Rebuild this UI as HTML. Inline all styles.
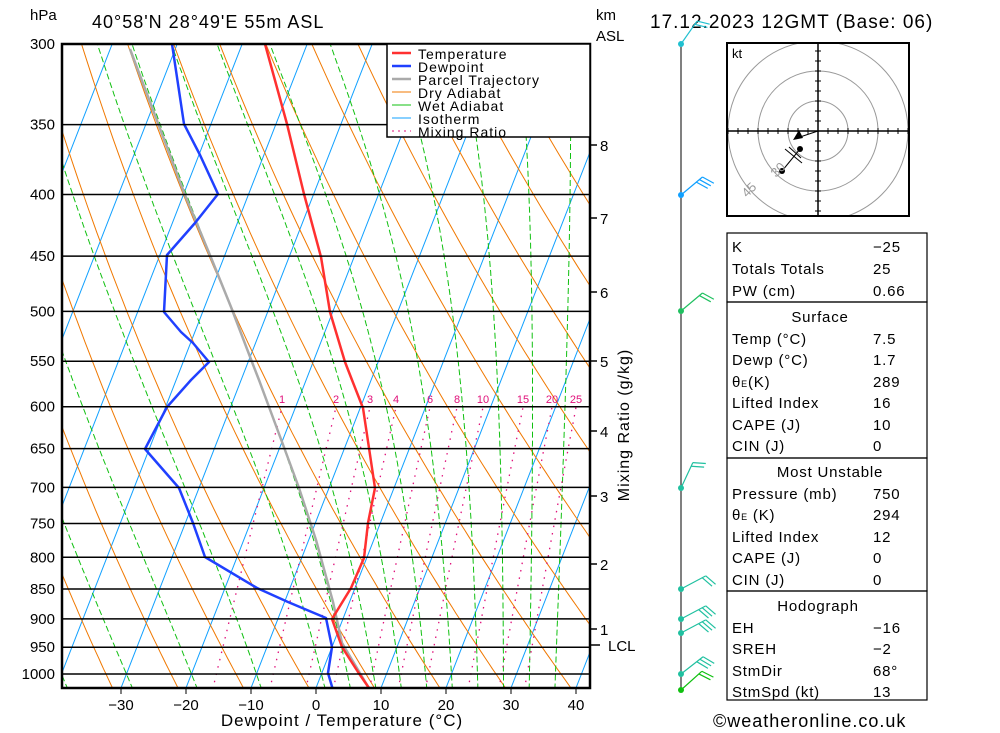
<!DOCTYPE html>
<html><head><meta charset="utf-8"><style>
body{margin:0;background:#fff;}
svg{display:block;font-family:"Liberation Sans",sans-serif;}
</style></head><body>
<svg id="s" width="1000" height="733" viewBox="0 0 1000 733" xmlns="http://www.w3.org/2000/svg">
<defs><clipPath id="pc"><rect x="62" y="44" width="528" height="644"/></clipPath>
<clipPath id="hc"><rect x="727" y="43" width="182" height="173"/></clipPath></defs>
<rect width="1000" height="733" fill="#fff"/>
<g id="bg" clip-path="url(#pc)" fill="none"></g>
<g id="prof" clip-path="url(#pc)" fill="none" stroke-linejoin="round"></g>
<g id="ov"></g>
<text x="30" y="20" font-size="15">hPa</text>
<text x="92" y="28" font-size="18" letter-spacing="1">40°58'N  28°49'E  55m  ASL</text>
<text x="596" y="20" font-size="15">km</text>
<text x="596" y="41" font-size="15">ASL</text>
<text x="650" y="28" font-size="19" letter-spacing="1">17.12.2023  12GMT  (Base: 06)</text>
<text x="342" y="726" font-size="17" text-anchor="middle" letter-spacing="1">Dewpoint / Temperature (°C)</text>
<text transform="translate(629,425) rotate(-90)" font-size="16" text-anchor="middle" letter-spacing="1">Mixing Ratio (g/kg)</text>
<text x="713" y="727" font-size="18" letter-spacing="1">©weatheronline.co.uk</text>
<g font-size="14" letter-spacing="1">
<rect x="387" y="44" width="203" height="93" fill="#fff" stroke="#000" stroke-width="1.5"/>
<line x1="392" y1="53" x2="411" y2="53" stroke="#ff3030" stroke-width="2.5"/><text x="418" y="59">Temperature</text>
<line x1="392" y1="66" x2="411" y2="66" stroke="#2040ff" stroke-width="2.5"/><text x="418" y="72">Dewpoint</text>
<line x1="392" y1="79" x2="411" y2="79" stroke="#aaa" stroke-width="2.5"/><text x="418" y="85">Parcel Trajectory</text>
<line x1="392" y1="92" x2="411" y2="92" stroke="#f07800" stroke-width="1"/><text x="418" y="98">Dry Adiabat</text>
<line x1="392" y1="105" x2="411" y2="105" stroke="#10c010" stroke-width="1"/><text x="418" y="111">Wet Adiabat</text>
<line x1="392" y1="118" x2="411" y2="118" stroke="#10a0ff" stroke-width="1"/><text x="418" y="124">Isotherm</text>
<line x1="392" y1="131" x2="411" y2="131" stroke="#e0107a" stroke-width="1" stroke-dasharray="2,4"/><text x="418" y="137">Mixing Ratio</text>
</g>
<g id="hodo"></g>
<g font-size="15" letter-spacing="0.8" fill="#000">
<rect x="727" y="233" width="200" height="69" fill="none" stroke="#000" stroke-width="1.2"/>
<text x="732" y="252">K</text><text x="873" y="252">−25</text>
<text x="732" y="274">Totals Totals</text><text x="873" y="274">25</text>
<text x="732" y="296">PW (cm)</text><text x="873" y="296">0.66</text>
<rect x="727" y="302" width="200" height="156" fill="none" stroke="#000" stroke-width="1.2"/>
<text x="820" y="322" text-anchor="middle">Surface</text>
<text x="732" y="344">Temp (°C)</text><text x="873" y="344">7.5</text>
<text x="732" y="365">Dewp (°C)</text><text x="873" y="365">1.7</text>
<text x="732" y="387">θ<tspan font-size="9">E</tspan>(K)</text><text x="873" y="387">289</text>
<text x="732" y="408">Lifted Index</text><text x="873" y="408">16</text>
<text x="732" y="430">CAPE (J)</text><text x="873" y="430">10</text>
<text x="732" y="451">CIN (J)</text><text x="873" y="451">0</text>
<rect x="727" y="458" width="200" height="133" fill="none" stroke="#000" stroke-width="1.2"/>
<text x="830" y="477" text-anchor="middle">Most Unstable</text>
<text x="732" y="499">Pressure (mb)</text><text x="873" y="499">750</text>
<text x="732" y="520">θ<tspan font-size="9">E</tspan> (K)</text><text x="873" y="520">294</text>
<text x="732" y="542">Lifted Index</text><text x="873" y="542">12</text>
<text x="732" y="563">CAPE (J)</text><text x="873" y="563">0</text>
<text x="732" y="585">CIN (J)</text><text x="873" y="585">0</text>
<rect x="727" y="591" width="200" height="109" fill="none" stroke="#000" stroke-width="1.2"/>
<text x="818" y="611" text-anchor="middle">Hodograph</text>
<text x="732" y="633">EH</text><text x="873" y="633">−16</text>
<text x="732" y="654">SREH</text><text x="873" y="654">−2</text>
<text x="732" y="676">StmDir</text><text x="873" y="676">68°</text>
<text x="732" y="697">StmSpd (kt)</text><text x="873" y="697">13</text>
</g>
<g id="wind"></g>
</svg>
<script>
var NS="http://www.w3.org/2000/svg";
function el(p,t,a){var e=document.createElementNS(NS,t);for(var k in a)e.setAttribute(k,a[k]);p.appendChild(e);return e;}
function Y(p){return 44+523.3*Math.log(p/300);}
function X(T,y){return 316+6.5*T+0.39*(688-y);}
var bg=document.getElementById('bg'),prof=document.getElementById('prof'),ov=document.getElementById('ov');
function pl(g,pts,st){var d=pts.map(function(q,i){return (i?'L':'M')+q[0].toFixed(1)+','+q[1].toFixed(1);}).join('');return el(g,'path',Object.assign({d:d},st));}
var PB=1030;
for(var T=-120;T<=50;T+=10){pl(bg,[[X(T,Y(PB)),Y(PB)],[X(T,Y(250)),Y(250)]],{stroke:'#10a0ff','stroke-width':1});}
for(var th=200;th<=480;th+=10){var pts=[];for(var p=PB;p>=280;p-=10){var Tk=th*Math.pow(p/1000,0.286);var y=Y(p);pts.push([X(Tk-273.15,y),y]);}pl(bg,pts,{stroke:'#f07800','stroke-width':1});}
function es(T){return 6.112*Math.exp(17.67*T/(T+243.5));}
function lapse(p,T){var Tc=T-273.15,e=es(Tc),rs=0.622*e/(p-e),Rd=287,Lv=2.5e6,cp=1004;return (Rd*T+Lv*rs)/p/(cp+Lv*Lv*rs*0.622/(Rd*T*T));}
var wl=[-40,-30,-20,-10,0,4,8,12,16,20,24,28,32,36];
wl.forEach(function(t0){var Tk=t0+273.15,pts=[];
 var up=[];var T2=Tk;for(var q=1000;q<=PB;q+=2){up.push([q,T2]);T2+=lapse(q,T2)*2;}
 var down=[];T2=Tk;for(var q=1000;q>=280;q-=2){down.push([q,T2]);T2-=lapse(q,T2)*2;}
 var all=up.reverse().concat(down.slice(1));
 all.forEach(function(a){var y=Y(a[0]);pts.push([X(a[1]-273.15,y),y]);});
 pl(bg,pts,{stroke:'#10c010','stroke-width':1,'stroke-dasharray':'6,3'});});
var lx={1:282,2:336,3:370,4:396,6:430,8:457,10:483,15:523,20:552,25:576};
[1,2,3,4,6,8,10,15,20,25].forEach(function(w){var pts=[];var e0=w/1000*600/(0.622+w/1000),a0=Math.log(e0/6.112),Td0=243.5*a0/(17.67-a0);var off=lx[w]-X(Td0,407);
 for(var p=PB;p>=600;p-=10){var e=w/1000*p/(0.622+w/1000);var a=Math.log(e/6.112);var Td=243.5*a/(17.67-a);var y=Y(p);pts.push([X(Td,y)+off,y]);}
 pl(bg,pts,{stroke:'#e0107a','stroke-width':1.3,'stroke-dasharray':'1.5,6'});
 var t=el(ov,'text',{x:lx[w],y:403,'font-size':11,fill:'#e0107a','text-anchor':'middle'});t.textContent=w;});
[300,350,400,450,500,550,600,650,700,750,800,850,900,950,1000].forEach(function(p){var y=Y(p);el(ov,'line',{x1:62,x2:590,y1:y,y2:y,stroke:'#000','stroke-width':1.5});var t=el(ov,'text',{x:55,y:y+5,'font-size':15,'text-anchor':'end'});t.textContent=p;});
el(ov,'rect',{x:62,y:44,width:528,height:644,fill:'none',stroke:'#000','stroke-width':2.5});
[-30,-20,-10,0,10,20,30,40].forEach(function(T){var x=316+6.5*T;el(ov,'line',{x1:x,x2:x,y1:688,y2:694,stroke:'#000'});var t=el(ov,'text',{x:x,y:710,'font-size':15,'text-anchor':'middle'});t.textContent=T<0?'−'+(-T):T;});
[[145,'8'],[218,'7'],[292,'6'],[361,'5'],[431,'4'],[496,'3'],[564,'2'],[629,'1']].forEach(function(k){el(ov,'line',{x1:590,x2:597,y1:k[0],y2:k[0],stroke:'#000','stroke-width':1.5});var t=el(ov,'text',{x:600,y:k[0]+6,'font-size':15});t.textContent=k[1];});
el(ov,'line',{x1:590,x2:600,y1:645,y2:645,stroke:'#000','stroke-width':1.5});
var t=el(ov,'text',{x:608,y:651,'font-size':15});t.textContent='LCL';
pl(prof,[[130,49],[153,110],[185,195],[212,260],[231,307],[252,362],[259,380],[285,450],[299,488],[316,540],[333,602],[342,643],[370,690]],{stroke:'#aaa','stroke-width':2.5});
pl(prof,[[172,44],[184,124],[200,155],[218,194],[195,223],[167,255],[164,312],[181,332],[193,343],[209,362],[191,380],[167,407],[145,449],[179,488],[193,523],[205,557],[257,588],[288,602],[326,618],[332,647],[328,673],[333,690]],{stroke:'#2040ff','stroke-width':2.5});
pl(prof,[[265,44],[287,124],[304,194],[321,257],[330,312],[345,362],[352,380],[363,408],[375,488],[368,523],[364,558],[351,588],[332,619],[342,647],[358,672],[369,688]],{stroke:'#ff3030','stroke-width':2.5});
var w=document.getElementById('wind');
el(w,'line',{x1:681,x2:681,y1:44,y2:690,stroke:'#000','stroke-width':1});
function barb(y,c,ang,n){var a=ang*Math.PI/180,L=28,ux=Math.cos(a),uy=-Math.sin(a);var ex=681+ux*L,ey=y+uy*L;el(w,'line',{x1:681,y1:y,x2:ex,y2:ey,stroke:c,'stroke-width':1.2});
 var fa=a-1.2,fx=Math.cos(fa),fy=-Math.sin(fa);for(var i=0;i<n;i++){var sx=ex-ux*4*i,sy=ey-uy*4*i;el(w,'line',{x1:sx,y1:sy,x2:sx+fx*13,y2:sy+fy*13,stroke:c,'stroke-width':1.2});}
 el(w,'circle',{cx:681,cy:y,r:3,fill:c});}
barb(44,'#20c0d0',55,2);barb(195,'#10a0ff',40,3);barb(311,'#20c060',40,2);barb(488,'#20c0a0',65,2);
barb(589,'#20c0a0',28,2);barb(619,'#20c0a0',28,3);barb(633,'#20c0a0',28,3);barb(674,'#20c0a0',38,3);barb(690,'#10c010',42,2);
var h=document.getElementById('hodo');
el(h,'rect',{x:727,y:43,width:182,height:173,fill:'#fff'});
var hg=el(h,'g',{'clip-path':'url(#hc)'});
[30,60,90].forEach(function(r){el(hg,'circle',{cx:818,cy:131,r:r,fill:'none',stroke:'#999','stroke-width':1});});
el(h,'line',{x1:727,x2:909,y1:131,y2:131,stroke:'#000','stroke-width':1.5});
el(h,'line',{x1:818,x2:818,y1:43,y2:216,stroke:'#000','stroke-width':1.5});
for(var d=-90;d<=90;d+=10){if(!d)continue;el(h,'line',{x1:818+d,x2:818+d,y1:128,y2:134,stroke:'#000'});if(Math.abs(d)<=80)el(h,'line',{x1:815,x2:821,y1:131+d,y2:131+d,stroke:'#000'});}
el(h,'rect',{x:727,y:43,width:182,height:173,fill:'none',stroke:'#000','stroke-width':2});
var tk=el(h,'text',{x:732,y:58,'font-size':13});tk.textContent='kt';
el(h,'line',{x1:818,y1:131,x2:800,y2:137,stroke:'#000'});
el(h,'polygon',{points:'793,140 803,138 799,130',fill:'#000'});
el(h,'line',{x1:800,y1:149,x2:782,y2:171,stroke:'#000'});
el(h,'circle',{cx:800,cy:149,r:3,fill:'#000'});el(h,'circle',{cx:782,cy:171,r:3,fill:'#000'});
el(h,'line',{x1:785,y1:149,x2:802,y2:163,stroke:'#000'});el(h,'line',{x1:789,y1:147,x2:801,y2:158,stroke:'#000'});
var a1=el(h,'text',{x:776,y:178,'font-size':13,fill:'#999',transform:'rotate(-45 776 178)'});a1.textContent='30';
var a2=el(h,'text',{x:747,y:198,'font-size':13,fill:'#999',transform:'rotate(-45 747 198)'});a2.textContent='45';
</script>
</body></html>
